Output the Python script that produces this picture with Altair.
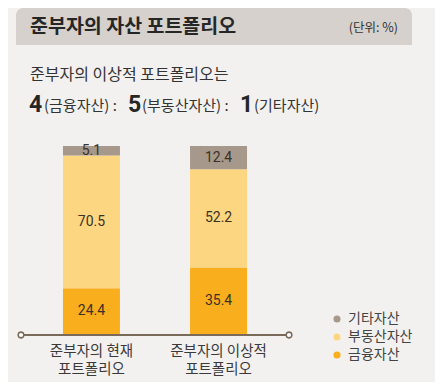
import altair as alt
import pandas as pd

portfolios = ["준부자의 현재 포트폴리오", "준부자의 이상적 포트폴리오"]
label_line1 = ["준부자의 현재", "준부자의 이상적"]
label_line2 = ["포트폴리오", "포트폴리오"]
assets = ["금융자산", "부동산자산", "기타자산"]
current = [24.4, 70.5, 5.1]
ideal = [35.4, 52.2, 12.4]
legend_order = ["기타자산", "부동산자산", "금융자산"]
colors = ["#a6998b", "#fdd681", "#f9ae1e"]

rows = []
for p, vals in zip(portfolios, [current, ideal]):
    for i, (a, v) in enumerate(zip(assets, vals)):
        rows.append({"portfolio": p, "asset": a, "value": v, "order": i})
df = pd.DataFrame(rows)
cat_df = pd.DataFrame({"portfolio": portfolios, "l1": label_line1, "l2": label_line2})

KFONT = "Noto Sans CJK KR"
NFONT = "Roboto"

xscale = alt.Scale(domain=portfolios, range=[13, 281], paddingInner=0.551, paddingOuter=0.33)
yscale = alt.Scale(domain=[0, 100], range=[325, 137])

bars = alt.Chart(df).mark_bar(size=57).encode(
    x=alt.X("portfolio:N", scale=xscale, axis=None),
    y=alt.Y("value:Q", stack="zero", scale=yscale, axis=None),
    color=alt.Color(
        "asset:N",
        scale=alt.Scale(domain=legend_order, range=colors),
        legend=alt.Legend(
            orient="none", legendX=322, legendY=303, title=None,
            symbolType="circle", symbolSize=50, symbolStrokeWidth=0,
            labelFontSize=14, labelFont=KFONT, labelColor="#444444",
            labelOffset=4, rowPadding=4, padding=0,
        ),
    ),
    order=alt.Order("order:Q"),
)

labels = alt.Chart(df).transform_stack(
    stack="value", groupby=["portfolio"], as_=["v0", "v1"],
    sort=[alt.SortField("order", order="ascending")],
).transform_calculate(
    mid="(datum.v0 + datum.v1) / 2"
).mark_text(font=NFONT, fontSize=14, color="#3b3125", baseline="middle").encode(
    x=alt.X("portfolio:N", scale=xscale, axis=None),
    y=alt.Y("mid:Q", scale=yscale, axis=None),
    text=alt.Text("value:Q", format=".1f"),
)

axis_line = alt.Chart(cat_df).mark_rule(color="#7a6a5a", strokeWidth=2).encode(
    x=alt.value(13), x2=alt.value(281), y=alt.value(326)
)
end_l = alt.Chart(cat_df).mark_point(shape="circle", size=30, filled=True, fill="#ffffff",
                                     stroke="#7a6a5a", strokeWidth=1.3, opacity=1).encode(
    x=alt.value(13), y=alt.value(326)
)
end_r = alt.Chart(cat_df).mark_point(shape="circle", size=30, filled=True, fill="#ffffff",
                                     stroke="#7a6a5a", strokeWidth=1.3, opacity=1).encode(
    x=alt.value(281), y=alt.value(326)
)

cat_l1 = alt.Chart(cat_df).mark_text(
    font=KFONT, fontSize=14.5, color="#3a3a3a", baseline="middle"
).encode(
    x=alt.X("portfolio:N", scale=xscale, axis=None),
    y=alt.value(343),
    text="l1:N",
)
cat_l2 = alt.Chart(cat_df).mark_text(
    font=KFONT, fontSize=14.5, color="#3a3a3a", baseline="middle"
).encode(
    x=alt.X("portfolio:N", scale=xscale, axis=None),
    y=alt.value(361),
    text="l2:N",
)

title_bar = alt.Chart(cat_df).mark_rect(
    color="#d6d1cc", cornerRadiusTopLeft=8, cornerRadiusTopRight=8
).encode(x=alt.value(8), x2=alt.value(404), y=alt.value(-1), y2=alt.value(36))

def txt(text, x, y, size, weight="normal", align="left", font=KFONT, color="#2e2e2e"):
    return alt.Chart(pd.DataFrame({"t": [text]})).mark_text(
        font=font, fontSize=size, fontWeight=weight, align=align, baseline="middle", color=color
    ).encode(x=alt.value(x), y=alt.value(y), text="t:N")

texts = [
    txt("준부자의 자산 포트폴리오", 22, 18, 19.5, "bold", color="#262626"),
    txt("(단위: %)", 390, 19, 12.5, align="right", color="#333333"),
    txt("준부자의 이상적 포트폴리오는", 22, 66, 16, color="#333333"),
    txt("4", 21, 96, 23, "bold", font=NFONT, color="#262626"),
    txt("(금융자산) :", 36, 97, 15, color="#333333"),
    txt("5", 120, 96, 23, "bold", font=NFONT, color="#262626"),
    txt("(부동산자산) :", 134, 97, 15, color="#333333"),
    txt("1", 232, 96, 23, "bold", font=NFONT, color="#262626"),
    txt("(기타자산)", 246, 97, 15, color="#333333"),
]

chart = alt.layer(title_bar, *texts, bars, labels, axis_line, end_l, end_r, cat_l1, cat_l2).properties(
    width=427, height=373, background="#f3f1ef", padding=0
).configure_view(stroke=None)

chart.save("out.html", embed_options={"renderer": "svg", "actions": False})
